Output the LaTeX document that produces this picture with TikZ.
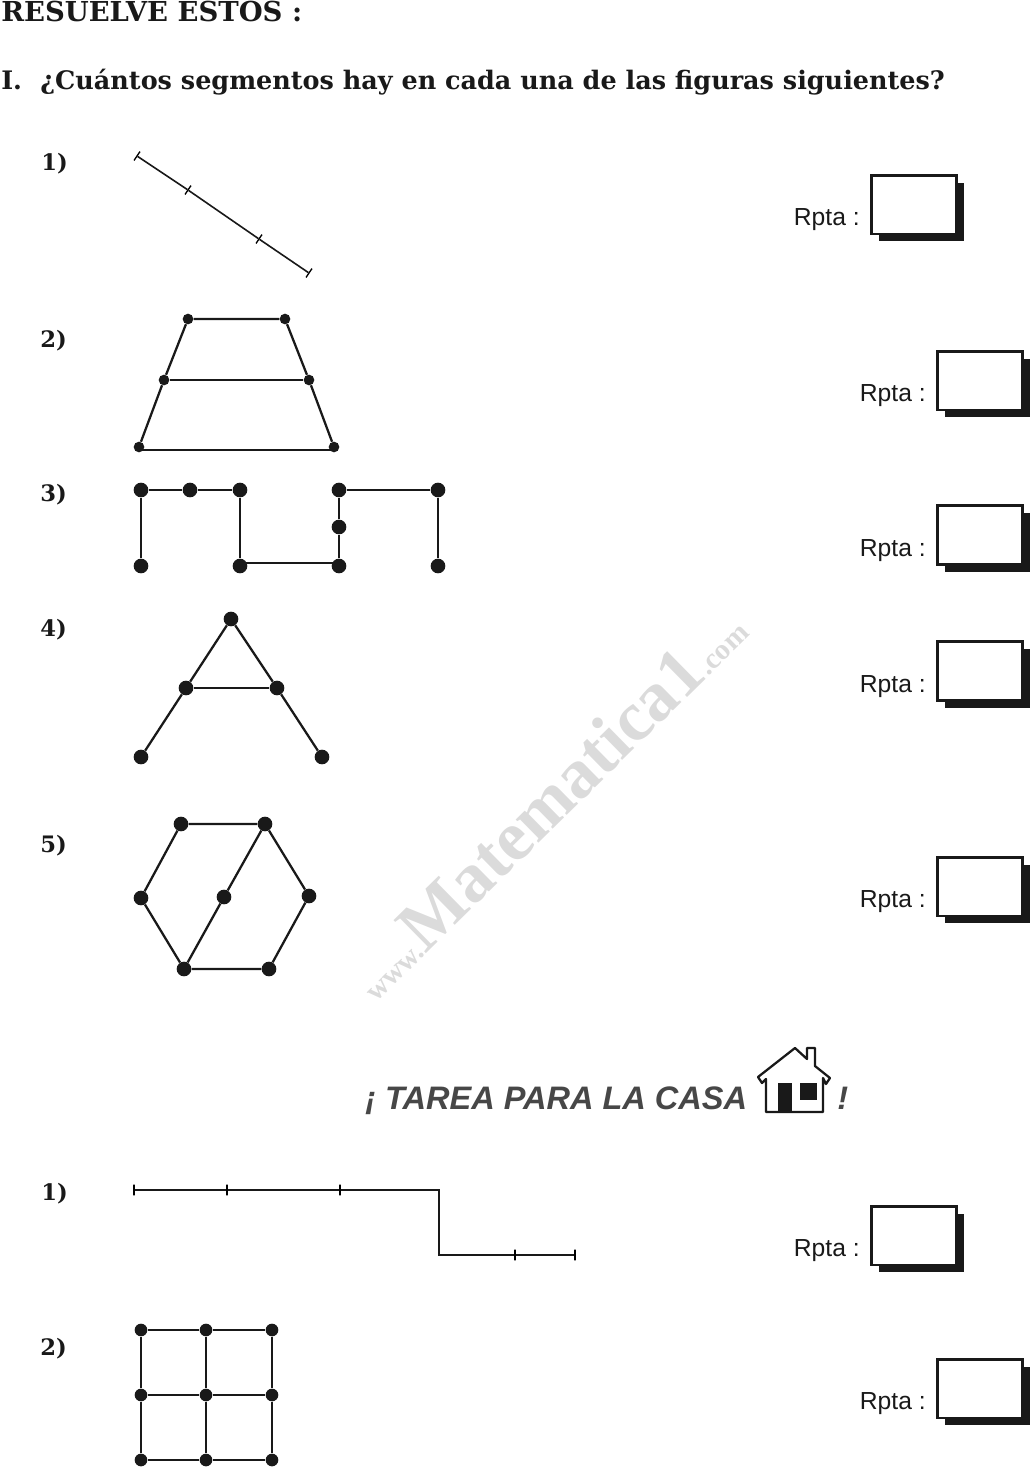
\documentclass[tikz,border=0pt]{standalone}
\usepackage{fontspec}
\usepackage{tikz}
\usetikzlibrary{shadows}
\setmainfont{DejaVu Serif}
\newfontfamily\rptafont{Liberation Sans}
\newfontfamily\markfont{Liberation Serif}
\tikzset{
  dotS/.style={circle,fill=black!90,inner sep=0pt,minimum size=8pt},
  dotL/.style={circle,fill=black!90,inner sep=0pt,minimum size=11pt},
  dotM/.style={circle,fill=black!90,inner sep=0pt,minimum size=9.5pt},
  tick/.style={inner sep=0pt,minimum width=0pt,minimum height=8pt,draw,line width=1pt},
  seg/.style={line width=1.7pt,black!90},
  heading/.style={font=\fontsize{17}{20}\selectfont\bfseries,anchor=base west,inner sep=0pt,text=black!90},
  answerbox/.style={draw=black!90,fill=white,line width=2pt,minimum width=64pt,minimum height=44pt,inner sep=0pt,
    drop shadow={shadow xshift=5.5pt,shadow yshift=-5.5pt,fill=black!90,opacity=1}},
  rpta/.style={font=\rptafont\fontsize{18.5}{20}\selectfont,anchor=base east,inner sep=0pt,text=black!90}
}
\begin{document}
\begin{tikzpicture}[x=.75pt,y=-.75pt]
  \useasboundingbox (0,0) rectangle (1031,1468);

  \node[rotate=44.5,anchor=base west,inner sep=0pt,text=black!14,font=\markfont\bfseries\fontsize{22}{22}\selectfont] (mark) at (376,1003)
    {www.{\fontsize{53}{53}\selectfont Matematica1}.com};

  \node[heading,font=\fontsize{20.6}{22}\selectfont\bfseries] (title) at (1,21.5) {RESUELVE ESTOS :};
  \node[heading,font=\fontsize{19.1}{22}\selectfont\bfseries] (qnum) at (1,89) {I.};
  \node[heading,font=\fontsize{19.1}{22}\selectfont\bfseries] (question) at (40,89) {¿Cuántos segmentos hay en cada una de las figuras siguientes?};

  \node[heading] (lA) at (41,170) {1)};
  \node[heading] (lB) at (40,347) {2)};
  \node[heading] (lC) at (40,501) {3)};
  \node[heading] (lD) at (40,636) {4)};
  \node[heading] (lE) at (40,852) {5)};
  \node[heading] (lF) at (41,1200) {1)};
  \node[heading] (lG) at (40,1355) {2)};

  % answer boxes
  \foreach \bx/\by/\bn in {914/204.5/a,980/380.5/b,980/535/c,980/671/d,980/886.5/e,914/1235.5/f,980/1388.5/g}{
    \node[answerbox] (box\bn) at (\bx,\by) {};
    \node[rpta] (rpta\bn) at (\bx-54,\by+21) {Rpta :};
  }

  % figure 1
  \node[tick,rotate=-34] (a1) at (137,156) {};
  \node[tick,rotate=-34] (a2) at (188,190) {};
  \node[tick,rotate=-34] (a3) at (259,239) {};
  \node[tick,rotate=-34] (a4) at (309,273) {};
  \draw[line width=1.2pt,black!90] (a1) -- (a2) -- (a3) -- (a4);

  % figure 2
  \node[dotS] (b1) at (188,319) {};
  \node[dotS] (b2) at (285,319) {};
  \node[dotS] (b3) at (164,380) {};
  \node[dotS] (b4) at (309,380) {};
  \node[dotS] (b5) at (139,447) {};
  \node[dotS] (b6) at (334,447) {};
  \draw[seg] (b1) -- (b2) -- (b4) -- (b6);
  \draw[seg] (b5) -- (b3) -- (b1);
  \draw[seg] (b3) -- (b4);
  \draw[seg] ([yshift=-2.25pt]b5.center) -- ([yshift=-2.25pt]b6.center);

  % figure 3
  \node[dotL] (c1) at (141,490) {};
  \node[dotL] (c2) at (190,490) {};
  \node[dotL] (c3) at (240,490) {};
  \node[dotL] (c4) at (141,566) {};
  \node[dotL] (c5) at (240,566) {};
  \node[dotL] (c6) at (339,490) {};
  \node[dotL] (c7) at (339,527) {};
  \node[dotL] (c8) at (339,566) {};
  \node[dotL] (c9) at (438,490) {};
  \node[dotL] (c10) at (438,566) {};
  \draw[seg] (c4) -- (c1) -- (c2) -- (c3) -- (c5);
  \draw[seg] ([yshift=2.25pt]c5.center) -- ([yshift=2.25pt]c8.center);
  \draw[seg] (c8) -- (c7) -- (c6) -- (c9) -- (c10);

  % figure 4
  \node[dotL] (d1) at (231,619) {};
  \node[dotL] (d2) at (186,688) {};
  \node[dotL] (d3) at (277,688) {};
  \node[dotL] (d4) at (141,757) {};
  \node[dotL] (d5) at (322,757) {};
  \draw[seg] (d4) -- (d2) -- (d1) -- (d3) -- (d5);
  \draw[seg] (d2) -- (d3);

  % figure 5
  \node[dotL] (e1) at (181,824) {};
  \node[dotL] (e2) at (265,824) {};
  \node[dotL] (e3) at (141,898) {};
  \node[dotL] (e4) at (224,897) {};
  \node[dotL] (e5) at (309,896) {};
  \node[dotL] (e6) at (184,969) {};
  \node[dotL] (e7) at (269,969) {};
  \draw[seg] (e1) -- (e2) -- (e5) -- (e7) -- (e6) -- (e3) -- (e1);
  \draw[seg] (e2) -- (e4) -- (e6);

  % homework heading
  \node[anchor=base west,inner sep=0pt,text=black!72,font=\rptafont\bfseries\itshape\fontsize{24.4}{26}\selectfont] (casa) at (365,1109) {¡ TAREA PARA LA CASA};
  \node[anchor=base west,inner sep=0pt,text=black!72,font=\rptafont\bfseries\itshape\fontsize{24.4}{26}\selectfont] (bang) at (837,1109) {!};
  \draw[line width=1.7pt,black!90,line join=round] (795,1048) -- (807,1059) -- (807,1048) -- (815,1048) -- (815,1066) -- (830,1078) -- (826,1084) -- (823,1078)
    -- (823,1112) -- (766,1112) -- (766,1079) -- (762,1083) -- (758,1077) -- cycle;
  \fill[black!90] (778,1083) rectangle (792,1111);
  \fill[black!90] (800,1083) rectangle (817,1100);

  % homework 1
  \node[tick] (f1) at (134,1190) {};
  \node[tick] (f2) at (227,1190) {};
  \node[tick] (f3) at (340,1190) {};
  \coordinate (f4) at (439,1190);
  \coordinate (f5) at (439,1255);
  \node[tick] (f6) at (515,1255) {};
  \node[tick] (f7) at (575,1255) {};
  \draw[seg] (f1) -- (f2) -- (f3) -- (f4) -- (f5) -- (f6) -- (f7);

  % homework 2
  \foreach \gx/\gn in {141/1,206/2,272/3}{
    \foreach \gy/\gm in {1330/1,1395/2,1460/3}{
      \node[dotM] (g\gn\gm) at (\gx,\gy) {};
    }
  }
  \draw[seg] (g11) -- (g21) -- (g31) -- (g32) -- (g33) -- (g23) -- (g13) -- (g12) -- (g11);
  \draw[seg] (g12) -- (g22) -- (g32);
  \draw[seg] (g21) -- (g22) -- (g23);
\end{tikzpicture}
\end{document}
